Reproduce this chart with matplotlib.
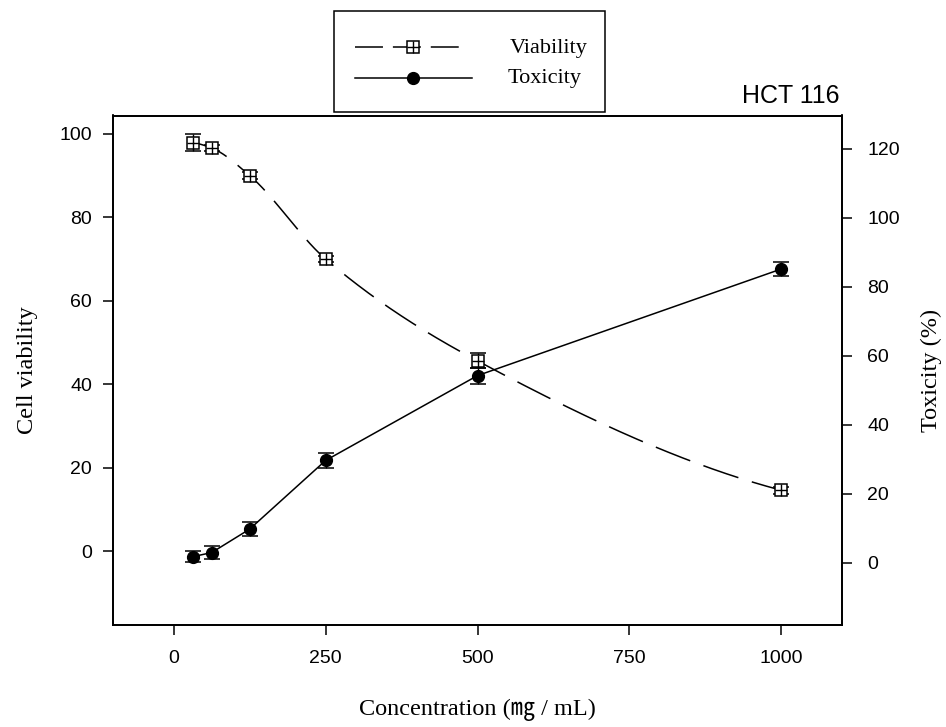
import numpy as np
import matplotlib
matplotlib.use("Agg")
import matplotlib.pyplot as plt
from matplotlib.lines import Line2D
from matplotlib.patches import Rectangle

# ---------------- data ----------------
concentration = [31.25, 62.5, 125, 250, 500, 1000]
viability = [97.9, 96.6, 90.0, 70.0, 45.6, 14.6]
viability_err = [2.0, 0.8, 0.8, 0.8, 1.8, 0.8]
toxicity = [1.8, 3.0, 9.8, 29.7, 54.3, 85.2]
toxicity_err = [1.6, 2.0, 2.0, 2.3, 2.3, 2.1]
x_ticks = [0, 250, 500, 750, 1000]
left_ticks = [0, 20, 40, 60, 80, 100]
right_ticks = [0, 20, 40, 60, 80, 100, 120]

SERIF = "Liberation Serif"
SANS = "Liberation Sans"
W, H = 946, 727


def pchip(x, y, xs):
    x = np.asarray(x, float)
    y = np.asarray(y, float)
    h = np.diff(x)
    d = np.diff(y) / h
    n = len(x)
    m = np.zeros(n)
    for k in range(1, n - 1):
        if d[k - 1] * d[k] > 0:
            w1 = 2 * h[k] + h[k - 1]
            w2 = h[k] + 2 * h[k - 1]
            m[k] = (w1 + w2) / (w1 / d[k - 1] + w2 / d[k])
    m0 = ((2 * h[0] + h[1]) * d[0] - h[0] * d[1]) / (h[0] + h[1])
    if np.sign(m0) != np.sign(d[0]):
        m0 = 0
    m[0] = m0
    mn = ((2 * h[-1] + h[-2]) * d[-1] - h[-1] * d[-2]) / (h[-1] + h[-2])
    if np.sign(mn) != np.sign(d[-1]):
        mn = 0
    m[-1] = mn
    idx = np.clip(np.searchsorted(x, xs) - 1, 0, n - 2)
    t = (xs - x[idx]) / h[idx]
    h00 = 2 * t**3 - 3 * t**2 + 1
    h10 = t**3 - 2 * t**2 + t
    h01 = -2 * t**3 + 3 * t**2
    h11 = t**3 - t**2
    return h00 * y[idx] + h10 * h[idx] * m[idx] + h01 * y[idx + 1] + h11 * h[idx] * m[idx + 1]


fig = plt.figure(figsize=(W / 100, H / 100), dpi=100)
ax_l, ax_r, ax_t, ax_b = 113, 842, 115.5, 625
ax = fig.add_axes([ax_l / W, 1 - ax_b / H, (ax_r - ax_l) / W, (ax_b - ax_t) / H])
ax2 = ax.twinx()

ax.set_xlim(-100, 1100)
ax.set_ylim(-17.7, 104.4)
ax2.set_ylim(-18, 129.7)

LW = 1.1
# viability: smooth dashed curve
xs = np.linspace(concentration[0], concentration[-1], 600)
ys = pchip(concentration, viability, xs)
vline, = ax.plot(xs, ys, color="k", lw=LW, zorder=3)
vline.set_dashes([24.2, 9.2])
ax.errorbar(concentration, viability, yerr=viability_err, fmt="none", ecolor="k",
            elinewidth=1.0, capsize=5.5, capthick=1.1, zorder=2)
ax.plot(concentration, viability, ls="none", marker="s", ms=8.5, mfc="white",
        mec="k", mew=1.1, zorder=4)
ax.plot(concentration, viability, ls="none", marker="+", ms=8.5, mec="k",
        mew=1.0, zorder=5)

# toxicity: solid line, right axis
ax2.errorbar(concentration, toxicity, yerr=toxicity_err, fmt="none", ecolor="k",
             elinewidth=1.0, capsize=5.5, capthick=1.1, zorder=2)
ax2.plot(concentration, toxicity, color="k", lw=LW, marker="o", ms=8.5,
         mfc="k", mec="k", zorder=3)

# ticks
ax.set_xticks(x_ticks)
ax.set_yticks(left_ticks)
ax2.set_yticks(right_ticks)
for a in (ax, ax2):
    for s in a.spines.values():
        s.set_linewidth(1.3)
ax.tick_params(axis="both", direction="out", length=7, width=1.1, labelsize=14)
ax.tick_params(axis="x", pad=11)
ax.tick_params(axis="y", pad=8)
ax2.tick_params(axis="y", direction="out", length=7, width=1.1, labelsize=14, pad=11)
for lab in ax.get_xticklabels() + ax.get_yticklabels() + ax2.get_yticklabels():
    lab.set_fontfamily(SANS)

# axis labels
ax.set_xlabel("Concentration (㎎ / mL)", fontsize=17.5,
              fontfamily=[SERIF, "Noto Sans CJK JP"])
ax.xaxis.label.set_va("center")
ax.xaxis.set_label_coords(0.5, (ax_b - 710) / (ax_b - ax_t))
ax.set_ylabel("Cell viability", fontsize=17.5, fontfamily=SERIF)
ax.yaxis.label.set_va("center")
ax.yaxis.set_label_coords((27 - ax_l) / (ax_r - ax_l), 0.5)
ax2.set_ylabel("Toxicity (%)", fontsize=17.5, fontfamily=SERIF, rotation=90)
ax2.yaxis.label.set_va("center")
ax2.yaxis.set_label_coords((931 - ax_l) / (ax_r - ax_l), 0.5)

# title at top right
fig.text(839 / W, 1 - 103 / H, "HCT 116", ha="right", va="baseline",
         fontsize=18, fontfamily=SANS)

# legend (drawn in a pixel-space overlay)
lax = fig.add_axes([0, 0, 1, 1])
lax.set_xlim(0, W)
lax.set_ylim(H, 0)
lax.set_axis_off()
lax.add_patch(Rectangle((334, 11), 271, 101, fill=False, ec="k", lw=1.1))
lv = Line2D([355, 462], [47.3, 47.3], color="k", lw=LW)
lv.set_dashes([18.3, 6.5])
lax.add_line(lv)
lax.plot([412.7], [47.3], ls="none", marker="s", ms=8.5, mfc="white", mec="k", mew=1.1)
lax.plot([412.7], [47.3], ls="none", marker="+", ms=8.5, mec="k", mew=1.0)
lax.plot([355, 472], [78.3, 78.3], color="k", lw=LW)
lax.plot([412.7], [78.3], ls="none", marker="o", ms=8.5, mfc="k", mec="k")
lax.text(549, 48, "Viability", ha="center", va="center", fontsize=16, fontfamily=SERIF)
lax.text(545, 79, "Toxicity", ha="center", va="center", fontsize=16, fontfamily=SERIF)

fig.savefig("out.png", dpi=100)
